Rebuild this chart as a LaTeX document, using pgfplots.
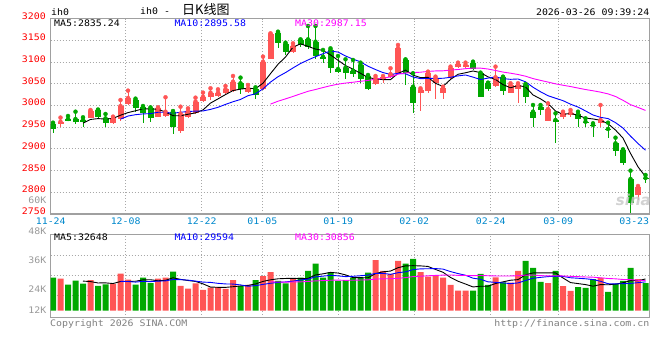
\documentclass[border=0pt]{standalone}
\usepackage{fontspec}
\setmainfont{DejaVu Sans Mono}[FakeStretch=1.1]
\newfontfamily\cjk{Noto Sans CJK SC}
\newfontfamily\sansf{DejaVu Sans}
\usepackage{pgfplots}
\usepackage{pgfplotstable}
\pgfplotsset{compat=1.18}
\definecolor{upc}{HTML}{FF5555}
\definecolor{dnc}{HTML}{00A800}
\definecolor{ma10c}{HTML}{0000FF}
\definecolor{ma30c}{HTML}{FF00FF}
\definecolor{xlab}{HTML}{0088CC}
\definecolor{ylab}{HTML}{FF0000}
\definecolor{klab}{HTML}{999999}
\definecolor{cpy}{HTML}{808080}
\definecolor{gridc}{HTML}{A8A8A8}
\definecolor{framec}{HTML}{A0A0A0}
\newcommand\tf{\fontsize{9}{10}\selectfont}

% i open high low close volume(K)
\pgfplotstableread{
i o h l c v
1 2958.0 2972.0 2949.5 2962.5 32.8
5 2971.7 2989.4 2970.2 2987.1 31.5
8 2960.2 2974.1 2957.2 2970.2 27.5
9 2968.5 3012.4 2963.0 2998.6 38.0
10 3003.3 3034.0 3002.0 3017.1 31.9
14 2974.0 2995.5 2972.5 2993.3 32.8
15 2975.6 3018.7 2974.0 2985.5 33.9
17 2942.0 2997.0 2935.7 2981.0 25.6
18 2974.0 2993.3 2970.2 2987.1 22.6
19 2982.0 3017.8 2980.0 3008.9 28.1
20 3010.1 3029.4 3008.7 3020.0 21.4
21 3018.6 3039.4 3012.4 3029.4 23.6
22 3022.5 3037.0 3020.0 3029.4 24.3
23 3027.9 3044.7 3024.0 3037.0 22.3
24 3034.0 3067.7 3031.7 3054.7 31.5
26 3031.7 3047.0 3029.4 3039.3 26.4
28 3037.0 3112.2 3035.5 3100.7 35.6
29 3106.8 3165.9 3106.1 3164.4 39.7
32 3123.7 3142.9 3121.4 3136.8 32.3
43 3049.3 3067.7 3047.0 3062.4 52.0
44 3058.5 3067.7 3052.4 3064.7 40.8
45 3066.2 3085.4 3062.4 3072.3 37.7
46 3075.4 3139.1 3072.3 3131.4 51.1
49 3029.5 3039.3 2988.0 3036.0 39.7
50 3034.0 3077.7 3028.0 3075.4 34.9
51 3050.9 3066.2 3014.0 3062.4 35.6
52 3029.4 3043.1 3014.0 3039.3 33.9
53 3062.4 3089.2 3060.1 3085.4 26.4
54 3087.7 3098.4 3085.4 3095.4 20.5
55 3089.2 3098.4 3085.4 3093.0 20.5
59 3044.7 3089.2 3041.6 3064.7 34.3
61 3029.4 3050.9 3027.9 3047.0 28.8
62 3037.0 3050.9 3006.4 3047.0 40.8
66 2964.8 3004.7 2964.8 2991.7 28.4
68 2974.0 2985.5 2968.7 2981.7 25.3
69 2977.9 2989.4 2972.5 2983.3 20.3
73 2960.2 3000.9 2951.0 2966.4 33.6
78 2793.8 2814.5 2782.3 2811.5 32.5
}\up

\pgfplotstableread{
i o h l c v
0 2957.2 2960.2 2935.7 2944.9 33.9
2 2968.7 2975.6 2963.3 2964.1 26.7
3 2968.7 2985.5 2957.2 2962.5 30.8
4 2966.4 2972.6 2949.5 2961.8 27.7
6 2989.4 2990.5 2970.2 2972.5 25.6
7 2970.2 2980.2 2951.0 2958.7 27.1
11 3012.4 3015.6 2985.9 2993.3 26.7
12 2995.5 2998.6 2958.7 2981.7 33.9
13 2993.3 2995.5 2961.0 2970.0 28.4
16 2985.5 2987.0 2935.0 2951.0 40.0
25 3050.9 3063.9 3026.3 3037.0 25.3
27 3037.0 3041.6 3014.0 3024.0 31.5
30 3167.4 3169.7 3131.4 3144.4 30.5
31 3141.4 3144.4 3116.0 3123.7 28.1
33 3150.6 3152.1 3135.2 3139.1 33.9
34 3152.1 3182.8 3129.1 3135.2 40.8
35 3146.7 3182.8 3106.1 3113.7 48.3
36 3112.2 3127.6 3096.9 3107.6 33.9
37 3127.6 3131.4 3075.4 3085.4 39.7
38 3083.8 3113.7 3075.4 3077.7 30.5
39 3086.9 3106.1 3060.1 3073.9 31.5
40 3080.0 3104.5 3064.7 3072.3 33.9
41 3093.0 3098.4 3052.4 3060.1 33.9
42 3067.7 3070.0 3036.0 3037.0 39.0
47 3104.5 3106.0 3047.0 3075.4 48.3
48 3043.0 3074.0 2983.0 3004.8 53.1
56 3098.4 3100.7 3081.5 3083.1 20.5
57 3073.9 3075.4 3018.6 3020.2 37.7
58 3050.9 3052.4 3034.0 3037.0 26.4
60 3064.7 3066.2 3024.0 3034.0 29.1
63 3047.0 3049.3 3006.4 3020.2 51.1
64 2985.6 3000.9 2951.0 2971.7 43.9
65 2995.5 3000.9 2977.9 2989.4 29.5
67 2966.4 2981.7 2912.7 2961.8 40.8
70 2980.2 2985.5 2951.0 2967.9 24.3
71 2962.5 2970.2 2949.5 2958.7 23.3
72 2954.9 2958.7 2926.5 2952.6 32.5
74 2945.7 2960.2 2924.2 2943.4 19.2
75 2912.7 2925.7 2883.5 2895.1 27.5
76 2897.4 2898.9 2862.8 2866.7 30.5
77 2830.6 2849.8 2751.6 2776.1 43.9
79 2832.9 2839.8 2822.2 2829.9 28.4
}\down

% moving averages: i price volume
\pgfplotstableread{
i p v
4 2959.2 30.38
5 2967.6 29.90
6 2969.6 28.46
7 2968.5 28.54
8 2970.1 27.88
9 2977.4 29.94
10 2983.4 30.02
11 2987.6 30.24
12 2992.2 31.60
13 2992.1 31.78
14 2991.1 30.74
15 2984.7 31.14
16 2976.3 33.80
17 2976.1 32.14
18 2979.6 30.98
19 2982.7 30.04
20 2989.6 27.54
21 3005.3 24.26
22 3015.0 24.00
23 3024.9 23.94
24 3034.1 24.62
25 3037.5 25.40
26 3039.5 25.96
27 3038.4 27.40
28 3051.1 30.06
29 3073.1 31.70
30 3094.6 32.74
31 3111.4 33.08
32 3134.0 33.24
33 3141.7 32.90
34 3135.8 33.12
35 3129.7 36.68
36 3126.5 37.84
37 3116.2 39.32
38 3103.9 38.64
39 3091.7 36.78
40 3083.4 33.90
41 3073.9 33.90
42 3064.2 33.76
43 3061.1 38.06
44 3059.3 39.92
45 3059.3 40.68
46 3073.6 44.12
47 3081.2 45.98
48 3069.7 46.20
49 3064.0 45.98
50 3064.6 45.42
51 3050.8 42.32
52 3043.6 39.44
53 3059.7 34.10
54 3071.6 30.26
55 3075.1 27.38
56 3079.2 24.36
57 3075.4 25.12
58 3065.7 25.12
59 3059.6 27.88
60 3047.8 29.60
61 3040.6 31.26
62 3045.9 31.88
63 3042.6 36.82
64 3024.0 38.74
65 3015.1 38.82
66 3004.0 38.74
67 2987.0 38.74
68 2979.3 33.58
69 2981.6 28.86
70 2977.3 27.82
71 2970.7 26.80
72 2968.8 25.14
73 2965.8 26.80
74 2957.8 26.58
75 2943.2 27.22
76 2924.8 28.66
77 2889.5 30.94
78 2858.6 30.72
79 2835.9 32.56
}\mafive

\pgfplotstableread{
i p v
9 2968.3 30.16
10 2975.5 29.96
11 2978.6 29.35
12 2980.4 30.07
13 2981.1 29.83
14 2984.2 30.34
15 2984.1 30.58
16 2981.9 32.02
17 2984.2 31.87
18 2985.9 31.38
19 2986.9 30.39
20 2987.2 29.34
21 2990.8 29.03
22 2995.6 28.07
23 3002.3 27.46
24 3008.4 27.33
25 3013.6 26.47
26 3022.4 25.11
27 3026.7 25.70
28 3038.0 27.00
29 3053.6 28.16
30 3066.0 29.07
31 3075.5 29.52
32 3086.2 30.32
33 3096.4 31.48
34 3104.5 32.41
35 3112.1 34.71
36 3119.0 35.46
37 3125.1 36.28
38 3122.8 35.77
39 3113.8 34.95
40 3106.5 35.29
41 3100.2 35.87
42 3090.2 36.54
43 3082.5 38.35
44 3075.5 38.35
45 3071.3 37.29
46 3073.7 39.01
47 3072.7 39.87
48 3065.4 42.13
49 3061.6 42.95
50 3062.0 43.05
51 3062.2 43.22
52 3062.4 42.71
53 3064.7 40.15
54 3067.9 38.12
55 3070.0 36.40
56 3065.1 33.34
57 3059.6 32.28
58 3062.8 29.61
59 3065.7 29.07
60 3061.6 28.49
61 3060.0 27.81
62 3060.8 28.50
63 3054.3 30.97
64 3041.8 33.31
65 3031.4 34.21
66 3022.3 35.00
67 3016.5 35.31
68 3010.9 35.20
69 3002.8 33.80
70 2996.2 33.32
71 2987.3 32.77
72 2977.9 31.94
73 2972.5 30.19
74 2969.7 27.72
75 2960.3 27.52
76 2947.8 27.73
77 2929.2 28.04
78 2912.2 28.76
79 2896.8 29.57
}\maten

\pgfplotstableread{
i p v
29 3003.0 29.57
30 3009.6 29.46
31 3015.0 29.30
32 3020.7 29.49
33 3026.6 29.59
34 3032.4 30.03
35 3036.6 30.59
36 3041.1 30.86
37 3045.3 31.28
38 3048.9 31.38
39 3051.4 31.17
40 3053.3 31.23
41 3055.5 31.47
42 3057.4 31.64
43 3060.4 32.43
44 3062.7 32.70
45 3065.6 32.82
46 3071.7 33.19
47 3074.8 33.95
48 3075.4 34.97
49 3076.4 35.35
50 3078.2 35.80
51 3079.3 36.20
52 3079.6 36.52
53 3081.3 36.66
54 3082.6 36.29
55 3084.5 36.13
56 3085.9 35.94
57 3085.8 36.14
58 3083.7 35.84
59 3080.4 35.66
60 3076.7 35.61
61 3074.1 35.63
62 3071.1 35.92
63 3067.2 36.49
64 3061.7 36.59
65 3057.6 35.97
66 3053.7 35.78
67 3049.6 35.82
68 3046.4 35.65
69 3043.4 35.27
70 3039.9 34.95
71 3036.5 34.60
72 3033.7 34.38
73 3030.5 33.77
74 3026.5 33.05
75 3020.5 32.71
76 3011.7 32.02
77 3001.7 31.88
78 2995.3 31.19
79 2988.4 30.81
}\mathirty

\pgfplotsset{
  sinabase/.style={
    scale only axis, anchor=south west,
    width=598.6pt,
    xmin=-0.307, xmax=79.507,
    xtick={9.69,19.83,27.91,38.04,48.17,58.36,67.37},
    xmajorgrids, ymajorgrids,
    grid style={gridc, line width=0.8pt, dash pattern=on 1pt off 2pt},
    axis line style={framec, line width=1.3pt},
    major tick length=0pt,
    /pgf/number format/assume math mode=true,
  },
}

\begin{document}
\begin{tikzpicture}[x=1pt,y=1pt]
\useasboundingbox (0,0) rectangle (660,360);

% ---------- price panel ----------
\begin{axis}[sinabase,
  at={(50.7pt,146pt)}, height=195.5pt,
  ymin=2750, ymax=3200,
  xticklabels={12-08,12-22,01-05,01-19,02-02,02-24,03-09},
  extra x ticks={-0.3,77.5}, extra x tick labels={11-24,03-23},
  extra x tick style={grid=none},
  ytick={2750,2800,2850,2900,2950,3000,3050,3100,3150,3200},
  yticklabels={2750,2800,2850,2900,2950,3000,3050,3100,3150,3200},
  xticklabel style={font=\tf, text=xlab, anchor=base, inner sep=0pt, yshift=-10pt},
  yticklabel style={font=\tf, text=ylab, anchor=base east, inner sep=0pt, xshift=-4.7pt, yshift=-0.5pt},
]
% wicks
\addplot[upc, only marks, mark=none,
  error bars/.cd, y dir=minus, y explicit, error mark=none,
  error bar style={draw=upc, line width=1pt}]
  table[x=i, y=h, y error minus expr={\thisrow{h}-\thisrow{l}}] {\up};
\addplot[dnc, only marks, mark=none,
  error bars/.cd, y dir=minus, y explicit, error mark=none,
  error bar style={draw=dnc, line width=1pt}]
  table[x=i, y=h, y error minus expr={\thisrow{h}-\thisrow{l}}] {\down};
% bodies
\addplot[upc, only marks, mark=none,
  error bars/.cd, y dir=minus, y explicit, error mark=none,
  error bar style={draw=upc, line width=6pt}]
  table[x=i, y=c, y error minus expr={max(\thisrow{c}-\thisrow{o},2.3)}] {\up};
\addplot[dnc, only marks, mark=none,
  error bars/.cd, y dir=minus, y explicit, error mark=none,
  error bar style={draw=dnc, line width=6pt}]
  table[x=i, y=o, y error minus expr={max(\thisrow{o}-\thisrow{c},2.3)}] {\down};
% moving averages
\addplot[black, line width=0.9pt, mark=none] table[x=i, y=p] {\mafive};
\addplot[ma10c, line width=0.9pt, mark=none] table[x=i, y=p] {\maten};
\addplot[ma30c, line width=0.9pt, mark=none] table[x=i, y=p] {\mathirty};
\end{axis}

% ---------- volume panel ----------
\begin{axis}[sinabase,
  at={(50.7pt,42.3pt)}, height=83.4pt,
  ymin=-7.2, ymax=78.4,
  xticklabels={,,,,,,,}, ytick={15.8,36.3,56.9}, yticklabels={,,,},
  ticklabel style={opacity=0},
]
\addplot[ybar, bar width=6pt, bar shift=0pt, fill=upc, draw=none] table[x=i, y=v] {\up};
\addplot[ybar, bar width=6pt, bar shift=0pt, fill=dnc, draw=none] table[x=i, y=v] {\down};
\addplot[black, line width=0.9pt, mark=none] table[x=i, y=v] {\mafive};
\addplot[ma10c, line width=0.9pt, mark=none] table[x=i, y=v] {\maten};
\addplot[ma30c, line width=0.9pt, mark=none] table[x=i, y=v] {\mathirty};
\end{axis}

% ---------- texts ----------
\node[anchor=base west, inner sep=0pt, font=\tf] at (51,344.3) {ih0};
\node[anchor=base west, inner sep=0pt, font=\tf] at (140,346) {ih0 -};
\node[anchor=base west, inner sep=0pt, font=\cjk\fontsize{13}{14}\selectfont] at (182,346) {日K线图};
\node[anchor=base east, inner sep=0pt, font=\tf] at (649.5,345) {2026-03-26 09:39:24};

\node[anchor=base west, inner sep=0pt, font=\tf] at (54,333.3) {MA5:2835.24};
\node[anchor=base west, inner sep=0pt, font=\tf, text=ma10c] at (174.3,333.3) {MA10:2895.58};
\node[anchor=base west, inner sep=0pt, font=\tf, text=ma30c] at (295,333.3) {MA30:2987.15};

\node[anchor=base west, inner sep=0pt, font=\tf] at (54,119.3) {MA5:32648};
\node[anchor=base west, inner sep=0pt, font=\tf, text=ma10c] at (174.3,119.3) {MA10:29594};
\node[anchor=base west, inner sep=0pt, font=\tf, text=ma30c] at (295,119.3) {MA30:30856};

\node[anchor=base east, inner sep=0pt, font=\tf, text=klab] at (46.5,156.7) {60K};
\node[anchor=base east, inner sep=0pt, font=\tf, text=klab] at (46.5,126) {48K};
\node[anchor=base east, inner sep=0pt, font=\tf, text=klab] at (46.5,96.7) {36K};
\node[anchor=base east, inner sep=0pt, font=\tf, text=klab] at (46.5,67.3) {24K};
\node[anchor=base east, inner sep=0pt, font=\tf, text=klab] at (46.5,46.7) {12K};

\node[anchor=base west, inner sep=0pt, font=\tf, text=cpy] at (50,34) {Copyright 2026 SINA.COM};
\node[anchor=base east, inner sep=0pt, font=\tf, text=cpy] at (649.5,34) {http://finance.sina.com.cn};

\node[anchor=base east, inner sep=0pt, font=\sansf\bfseries\itshape\fontsize{15}{15}\selectfont, text=black!22, opacity=0.8] at (651,155) {sina};
\end{tikzpicture}
\end{document}
